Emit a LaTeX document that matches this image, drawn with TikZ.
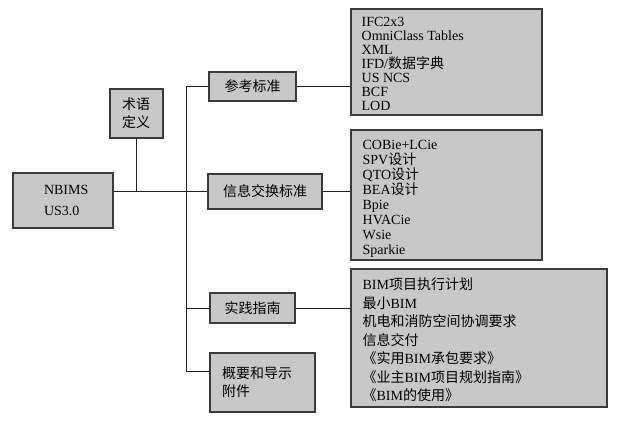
\documentclass[tikz,border=0pt]{standalone}
\usepackage{fontspec}
\setmainfont{Liberation Serif}
\newfontfamily\cjk{Noto Sans CJK SC}
\newcommand\zh[1]{{\cjk #1}}
\definecolor{boxfill}{HTML}{C8C8C8}
\definecolor{boxline}{HTML}{3A3A3A}
\definecolor{connline}{HTML}{202020}
\setlength{\lineskiplimit}{-20pt}
\begin{document}
\begin{tikzpicture}[x=1pt,y=-1pt,
  box/.style={draw=boxline, fill=boxfill, line width=1.1pt, inner ysep=0pt, anchor=center},
  conn/.style={draw=connline, line width=1pt},
  fs/.style={font={\fontsize{14}{#1}\selectfont}},
  listtext/.style={anchor=base west, inner sep=0pt, align=left}]
\useasboundingbox (0,0) rectangle (622,425);

\node[box, minimum width=100pt, minimum height=55pt, inner xsep=31pt, text width=38pt, align=left, fs=21] (nb) at (63,200.5) {NBIMS\\US3.0};
\node[box, minimum width=53pt, minimum height=49pt, inner xsep=12pt, text width=29pt, align=left, fs=18] (ty) at (136.5,113.5) {\zh{术语}\\\zh{定义}};
\node[box, minimum width=87pt, minimum height=29pt, inner xsep=4pt, fs=14] (ck) at (252.5,86.5) {\zh{参考标准}};
\node[box, minimum width=114pt, minimum height=35pt, inner xsep=4pt, fs=14] (xx) at (265,191.5) {\zh{信息交换标准}};
\node[box, minimum width=85pt, minimum height=30pt, inner xsep=4pt, fs=14] (sj) at (252.5,308) {\zh{实践指南}};
\node[box, minimum width=105pt, minimum height=59pt, inner xsep=12pt, text width=81pt, align=left, fs=18] (gy) at (262.5,382.5) {\zh{概要和导示}\\\zh{附件}};

\node[box, minimum width=191pt, minimum height=106pt] (l1) at (446.5,62) {};
\node[box, minimum width=191pt, minimum height=130pt] (l2) at (446.5,195) {};
\node[box, minimum width=256pt, minimum height=138pt] (l3) at (479,338) {};

\node[listtext, fs=14] (l1t) at ([xshift=11pt,yshift=-102pt]l1.north west)
 {IFC2x3\\OmniClass Tables\\XML\\IFD/\zh{数据字典}\\US NCS\\BCF\\LOD};
\node[listtext, fs=15] (l2t) at ([xshift=12pt,yshift=-125pt]l2.north west)
 {COBie+LCie\\SPV\zh{设计}\\QTO\zh{设计}\\BEA\zh{设计}\\Bpie\\HVACie\\Wsie\\Sparkie};
\node[listtext, fs=18.5] (l3t) at ([xshift=12pt,yshift=-132.5pt]l3.north west)
 {BIM\zh{项目执行计划}\\\zh{最小}BIM\\\zh{机电和消防空间协调要求}\\\zh{信息交付}\\\zh{《实用}BIM\zh{承包要求》}\\\zh{《业主}BIM\zh{项目规划指南》}\\\zh{《}BIM\zh{的使用》}};

\coordinate (tr) at (186,0);
\coordinate (gyin) at ([yshift=-19pt]gy.north west);

\draw[conn] (nb.east |- xx.west) -- (xx.west);
\draw[conn] (ty.south) -- (ty.south |- xx.west);
\draw[conn] (ck.west) -- (ck.west -| tr) -- (gyin -| tr) -- (gyin);
\draw[conn] (sj.west) -- (sj.west -| tr);
\draw[conn] (ck.east) -- (l1.west |- ck.east);
\draw[conn] (xx.east) -- (l2.west |- xx.east);
\draw[conn] (sj.east) -- (l3.west |- sj.east);
\end{tikzpicture}
\end{document}
